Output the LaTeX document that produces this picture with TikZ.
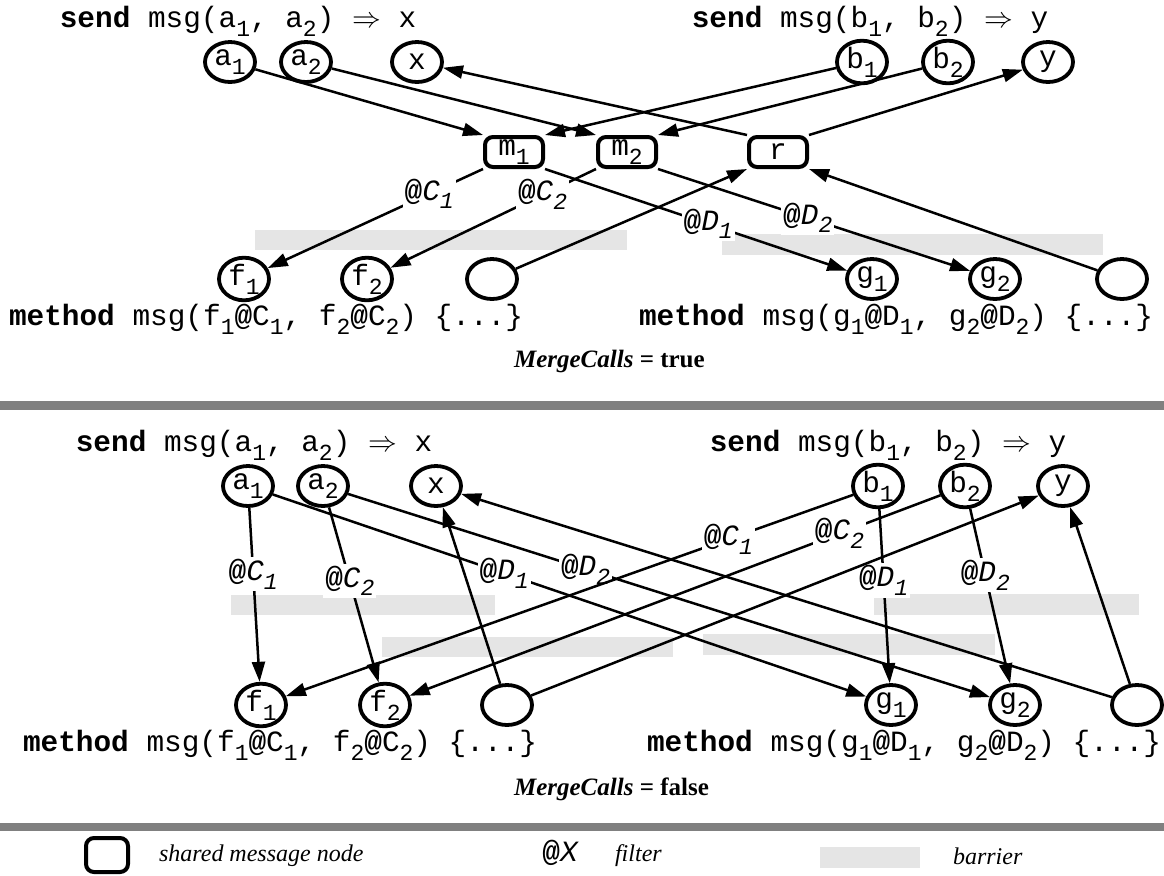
\documentclass[tikz,border=0pt]{standalone}
\usepackage{fontspec}
\setmainfont{Liberation Serif}
\setmonofont{Liberation Mono}
\usetikzlibrary{arrows.meta,shapes.geometric}

\newcommand{\low}[1]{\raisebox{-0.3em}{\fontsize{11.5}{12}\selectfont #1}}
\newcommand{\flt}[2]{\textbf{@}\textit{#1\low{#2}}}

\tikzset{
  codetxt/.style={font=\ttfamily\fontsize{14.7}{16}\selectfont},
  vnode/.style={draw, ellipse, line width=1.9pt, minimum width=25pt, minimum height=20pt, inner sep=0pt, codetxt},
  msgbox/.style={draw, rounded corners=4pt, line width=2pt, minimum width=29pt, minimum height=15pt, inner sep=0pt, codetxt},
  arr/.style={line width=1.25pt, -{Triangle[length=10pt,width=6.5pt]}},
  filt/.style={fill=white, inner sep=1pt, codetxt},
  capt/.style={font=\bfseries\fontsize{12.5}{14}\selectfont, anchor=west},
  legtext/.style={font=\itshape\fontsize{12}{14}\selectfont, anchor=west},
  barrier/.style={fill=gray!20},
  divider/.style={fill=gray}
}

\begin{document}
\begin{tikzpicture}[x=0.5pt, y=-0.5pt]
\useasboundingbox (0,0) rectangle (1164,875);

% MergeCalls = true
\fill[barrier] (255,230) rectangle (627,250);
\fill[barrier] (722,234) rectangle (1103,255);

\node[codetxt] (tsenda) at (238,21) {\textbf{send} msg(a\low{1}, a\low{2}) $\Rightarrow$ x};
\node[codetxt] (tsendb) at (870,21) {\textbf{send} msg(b\low{1}, b\low{2}) $\Rightarrow$ y};

\node[vnode] (ta1) at (230,62) {a\low{1}};
\node[vnode] (ta2) at (306,62) {a\low{2}};
\node[vnode] (tx) at (417,62) {x};
\node[vnode] (tb1) at (862,62) {b\low{1}};
\node[vnode] (tb2) at (948,62) {b\low{2}};
\node[vnode] (ty) at (1048,62) {y};

\node[msgbox] (tm1) at (514,152) {m\low{1}};
\node[msgbox] (tm2) at (627,152) {m\low{2}};
\node[msgbox] (tr) at (778,152) {r};

\node[vnode] (tf1) at (244,279) {f\low{1}};
\node[vnode] (tf2) at (367,279) {f\low{2}};
\node[vnode] (te1) at (492,279) {};
\node[vnode] (tg1) at (872,279) {g\low{1}};
\node[vnode] (tg2) at (995,279) {g\low{2}};
\node[vnode] (te2) at (1122,279) {};

\node[codetxt] (tmetha) at (266,319) {\textbf{method} msg(f\low{1}\textbf{@}C\low{1}, f\low{2}\textbf{@}C\low{2}) \{...\}};
\node[codetxt] (tmethb) at (896,319) {\textbf{method} msg(g\low{1}\textbf{@}D\low{1}, g\low{2}\textbf{@}D\low{2}) \{...\}};
\node[capt] (ttrue) at (507,361) {\textit{MergeCalls} = true};

\draw[arr] (ta1) -- (tm1.north west);
\draw[arr] (ta2) -- (tm2.north west);
\draw[arr] (tb1) -- (tm1.north east);
\draw[arr] (tb2) -- (tm2.north east);
\draw[arr] (tr.north west) -- (tx);
\draw[arr] (tr.north east) -- (ty);
\draw[arr] (te1) -- (tr.south west);
\draw[arr] (te2) -- (tr.south east);
\draw[arr] (tm1.south west) -- node[filt, pos=0.25] {\flt{C}{1}} (tf1);
\draw[arr] (tm2.south west) -- node[filt, pos=0.26] {\flt{C}{2}} (tf2);
\draw[arr] (tm1.south east) -- node[filt, pos=0.54] {\flt{D}{1}} (tg1);
\draw[arr] (tm2.south east) -- node[filt, pos=0.48] {\flt{D}{2}} (tg2);

\fill[divider] (0,401) rectangle (1164,410);

% MergeCalls = false
\fill[barrier] (231,595) rectangle (495,615);
\fill[barrier] (382,637) rectangle (673,657);
\fill[barrier] (703,634) rectangle (995,655);
\fill[barrier] (874,594) rectangle (1139,615);

\node[codetxt] (bsenda) at (254,445) {\textbf{send} msg(a\low{1}, a\low{2}) $\Rightarrow$ x};
\node[codetxt] (bsendb) at (888,445) {\textbf{send} msg(b\low{1}, b\low{2}) $\Rightarrow$ y};

\node[vnode] (ba1) at (248,486) {a\low{1}};
\node[vnode] (ba2) at (323,486) {a\low{2}};
\node[vnode] (bx) at (436,486) {x};
\node[vnode] (bb1) at (878,486) {b\low{1}};
\node[vnode] (bb2) at (965,486) {b\low{2}};
\node[vnode] (by) at (1063,486) {y};

\node[vnode] (bf1) at (261,705) {f\low{1}};
\node[vnode] (bf2) at (385,705) {f\low{2}};
\node[vnode] (be1) at (507,705) {};
\node[vnode] (bg1) at (891,705) {g\low{1}};
\node[vnode] (bg2) at (1015,705) {g\low{2}};
\node[vnode] (be2) at (1137,705) {};

\node[codetxt] (bmetha) at (280,745) {\textbf{method} msg(f\low{1}\textbf{@}C\low{1}, f\low{2}\textbf{@}C\low{2}) \{...\}};
\node[codetxt] (bmethb) at (904,745) {\textbf{method} msg(g\low{1}\textbf{@}D\low{1}, g\low{2}\textbf{@}D\low{2}) \{...\}};
\node[capt] (bfalse) at (507,789) {\textit{MergeCalls} = false};

\draw[arr] (ba1) -- node[filt, pos=0.38] {\flt{C}{1}} (bf1);
\draw[arr] (ba1) -- node[filt, pos=0.39] {\flt{D}{1}} (bg1);
\draw[arr] (ba2) -- node[filt, pos=0.42] {\flt{C}{2}} (bf2);
\draw[arr] (ba2) -- node[filt, pos=0.37] {\flt{D}{2}} (bg2);
\draw[arr] (bb1) -- node[filt, pos=0.22] {\flt{C}{1}} (bf1);
\draw[arr] (bb1) -- node[filt, pos=0.41] {\flt{D}{1}} (bg1);
\draw[arr] (bb2) -- node[filt, pos=0.19] {\flt{C}{2}} (bf2);
\draw[arr] (bb2) -- node[filt, pos=0.38] {\flt{D}{2}} (bg2);
\draw[arr] (be1) -- (bx);
\draw[arr] (be1) -- (by);
\draw[arr] (be2) -- (bx);
\draw[arr] (be2) -- (by);

\fill[divider] (0,823) rectangle (1164,831);

% legend
\node[msgbox, minimum width=21pt, minimum height=17pt] (lgbox) at (107,855) {};
\node[legtext] (lgshared) at (152,856) {shared message node};
\node[codetxt] (lgflt) at (560,855) {\flt{X}{}};
\node[legtext] (lgfilter) at (608,856) {filter};
\node[barrier, minimum width=50pt, minimum height=10.5pt, inner sep=0pt] (lgbar) at (870,857) {};
\node[legtext] (lgbarrier) at (946,856) {barrier};
\end{tikzpicture}
\end{document}
